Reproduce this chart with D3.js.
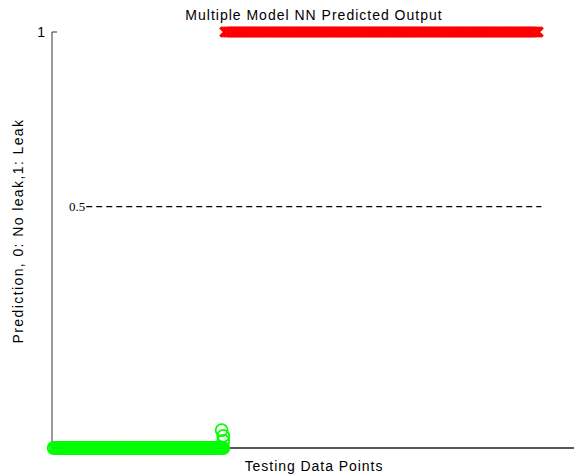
<!DOCTYPE html>
<html>
<head>
<script src="https://d3js.org/d3.v7.min.js"></script>
<style>
  body { margin: 0; background: #fff; }
  svg { display: block; }
</style>
</head>
<body>
<svg id="chart" width="574" height="476"></svg>
<script>
// data
var titleText = "Multiple Model NN Predicted Output";
var xLabel = "Testing Data Points";
var yLabel = "Prediction, 0: No leak,1: Leak";
var xDomain = [0, 320];
var yTicks = [1];
// runs of testing points: [first index, last index, predicted value]
var noLeakRuns = [[1, 105, 0]];
var leakRuns = [[106, 298, 1]];
// a few stray outputs near the change-over
var noLeakOutliers = [[104, 0.043], [105, 0.029], [105, 0.017]];
var leakOutliers = [[104, 0.006], [105, 0.003]];
var thresholdValue = 0.58;
var thresholdLabel = "0.5";
var thresholdRange = [21, 300];

function expand(runs) {
    var pts = [];
    runs.forEach(function (r) {
        for (var i = r[0]; i <= r[1]; i++) pts.push([i, r[2]]);
    });
    return pts;
}

var svg = d3.select("#chart");
var x = d3.scaleLinear(xDomain, [52, 574]);
var y = d3.scaleLinear([0, 1], [448, 32]);
var sans = "Liberation Sans, Arial, Helvetica, sans-serif";

// threshold dashed line
svg.append("line")
    .attr("x1", x(thresholdRange[0])).attr("x2", x(thresholdRange[1]))
    .attr("y1", y(thresholdValue)).attr("y2", y(thresholdValue))
    .attr("stroke", "#000").attr("stroke-width", 1.3)
    .attr("stroke-dasharray", "6,4");
svg.append("text")
    .attr("x", x(thresholdRange[0]) - 1).attr("y", y(thresholdValue) + 4)
    .attr("text-anchor", "end")
    .attr("font-family", "Liberation Serif, Times New Roman, serif")
    .attr("font-size", 13)
    .text(thresholdLabel);

// axes
svg.append("line")
    .attr("x1", x(0)).attr("x2", x(0)).attr("y1", y(1)).attr("y2", y(0))
    .attr("stroke", "#333").attr("stroke-width", 1);
svg.append("line")
    .attr("x1", x(0)).attr("x2", 574).attr("y1", y(0)).attr("y2", y(0))
    .attr("stroke", "#222").attr("stroke-width", 1.3);
svg.selectAll(".ytick").data(yTicks).enter().append("line")
    .attr("x1", x(0)).attr("x2", x(0) + 5)
    .attr("y1", d => y(d)).attr("y2", d => y(d))
    .attr("stroke", "#333");
svg.selectAll(".ylab").data(yTicks).enter().append("text")
    .attr("x", x(0) - 7).attr("y", d => y(d) + 5)
    .attr("text-anchor", "end")
    .attr("font-family", sans)
    .attr("font-size", 14)
    .text(d => d);

var s = 3.6;
function xMark(d) {
    var cx = x(d[0]), cy = y(d[1]);
    return "M" + (cx - s) + "," + (cy - s) + "L" + (cx + s) + "," + (cy + s) +
           "M" + (cx - s) + "," + (cy + s) + "L" + (cx + s) + "," + (cy - s);
}

// stray red outputs, mostly hidden under the green circles
svg.append("g").selectAll("path").data(leakOutliers).enter().append("path")
    .attr("d", d => "M" + (x(d[0]) - 1.5) + "," + (y(d[1]) - 1.5) + "l3,3")
    .attr("stroke", "#ff0000").attr("stroke-width", 2);

// green circles (no leak)
var green = expand(noLeakRuns).concat(noLeakOutliers);
svg.append("g").selectAll("circle").data(green).enter().append("circle")
    .attr("cx", d => x(d[0])).attr("cy", d => y(d[1]))
    .attr("r", 6).attr("fill", "none")
    .attr("stroke", "#00ff00").attr("stroke-width", 1.8);

// red x markers (leak)
svg.append("g").selectAll("path").data(expand(leakRuns)).enter().append("path")
    .attr("d", xMark)
    .attr("stroke", "#ff0000").attr("stroke-width", 3)
    .attr("stroke-linecap", "square");

// texts
svg.append("text")
    .attr("x", 314).attr("y", 20).attr("text-anchor", "middle")
    .attr("font-family", sans).attr("letter-spacing", 1)
    .attr("font-size", 14).text(titleText);
svg.append("text")
    .attr("x", 314).attr("y", 471).attr("text-anchor", "middle")
    .attr("font-family", sans).attr("letter-spacing", 0.95)
    .attr("font-size", 14).text(xLabel);
svg.append("text")
    .attr("transform", "translate(23,231) rotate(-90)")
    .attr("text-anchor", "middle")
    .attr("font-family", sans).attr("letter-spacing", 1.4)
    .attr("font-size", 14).text(yLabel);
</script>
</body>
</html>
